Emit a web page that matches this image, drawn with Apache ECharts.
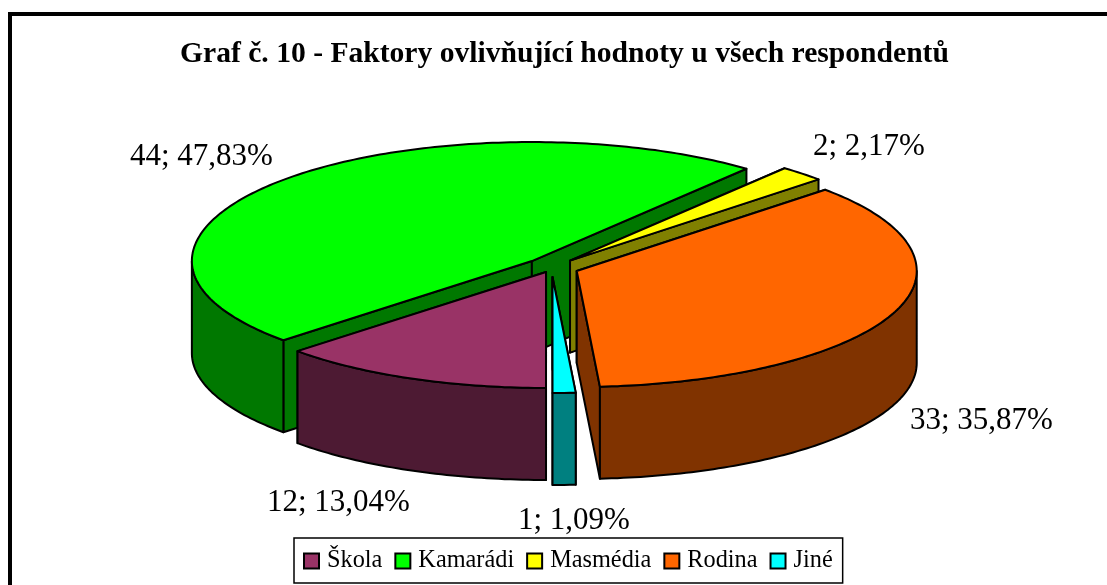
<!DOCTYPE html>
<html>
<head>
<meta charset="utf-8">
<style>html,body{margin:0;padding:0;background:#fff;overflow:hidden}#c{width:1107px;height:585px}</style>
<script src="https://cdn.jsdelivr.net/npm/echarts@6/dist/echarts.min.js"></script>
</head>
<body>
<div id="c"></div>
<script>
// Data
var categories = ['Škola', 'Kamarádi', 'Masmédia', 'Rodina', 'Jiné'];
var counts = [12, 44, 2, 33, 1];
var titleText = 'Graf č. 10 - Faktory ovlivňující hodnoty u všech respondentů';

// Style & layout
var topColors = ['#993366', '#00ff00', '#ffff00', '#ff6600', '#00ffff'];
var sideColors = ['#4d1a33', '#007800', '#808000', '#803300', '#008080'];
var explode = [14, 27, 27, 27, 27];
var labelAnchors = [[267, 518], [130, 172], [813, 162], [910, 436], [518, 536]];
var drawOrder = [5, 2, 3, 4, 6];
var pie = { cx: 551.6, cy: 267.5, a: 340, bTop: 119, bBottom: 116, depth: 92, startAngle: 180 };
var FONT = '"Liberation Serif","Times New Roman",serif';

var total = counts.reduce(function (s, v) { return s + v; }, 0);

function rad(d) { return d * Math.PI / 180; }
function ellipsePoint(ox, oy, deg) {
  var c = Math.cos(rad(deg));
  return [ox + pie.a * Math.sin(rad(deg)), oy - c * (c > 0 ? pie.bTop : pie.bBottom)];
}
function sliceAngles(index) {
  var before = 0;
  for (var i = 0; i < index; i++) before += counts[i];
  return [pie.startAngle + before / total * 360, pie.startAngle + (before + counts[index]) / total * 360];
}
function arcPoints(ox, oy, from, to) {
  var pts = [], n = Math.max(2, Math.ceil(Math.abs(to - from)));
  for (var i = 0; i <= n; i++) pts.push(ellipsePoint(ox, oy, from + (to - from) * i / n));
  return pts;
}
function drop(p) { return [p[0], p[1] + pie.depth]; }

function renderSlice(index) {
  return function (params, api) {
    var value = api.value(0);
    var ang = sliceAngles(index), s = ang[0], e = ang[1], mid = (s + e) / 2;
    var k = pie.bTop / pie.a;
    var ox = pie.cx + explode[index] * Math.sin(rad(mid));
    var oy = pie.cy - explode[index] * k * Math.cos(rad(mid));
    var apex = [ox, oy];
    var line = { stroke: '#000', lineWidth: 2, lineJoin: 'round' };
    var sideStyle = Object.assign({ fill: sideColors[index] }, line);
    var topStyle = Object.assign({ fill: topColors[index] }, line);
    var children = [];
    // cut walls
    [s, e].forEach(function (deg) {
      var p = ellipsePoint(ox, oy, deg);
      children.push({ type: 'polygon', shape: { points: [apex, p, drop(p), drop(apex)] }, style: sideStyle });
    });
    // outer wall: only the front half of the rim is seen
    var segs = [[s, e], [s + 360, e + 360], [s - 360, e - 360]];
    segs.forEach(function (r) {
      var from = Math.max(r[0], 90), to = Math.min(r[1], 270);
      if (to > from) {
        var rim = arcPoints(ox, oy, from, to);
        children.push({ type: 'polygon', shape: { points: rim.concat(rim.slice().reverse().map(drop)) }, style: sideStyle });
      }
    });
    // top face
    children.push({ type: 'polygon', shape: { points: [apex].concat(arcPoints(ox, oy, s, e)) }, style: topStyle });
    // label
    children.push({
      type: 'text',
      style: {
        text: value + '; ' + (value / total * 100).toFixed(2).replace('.', ',') + '%',
        x: labelAnchors[index][0], y: labelAnchors[index][1],
        fill: '#000', font: '31px ' + FONT, align: 'left', verticalAlign: 'bottom'
      }
    });
    return { type: 'group', children: children };
  };
}

var chart = echarts.init(document.getElementById('c'), null, { renderer: 'canvas' });
chart.setOption({
  animation: false,
  backgroundColor: '#fff',
  title: {
    text: titleText, left: 175, top: 34,
    textStyle: { fontFamily: FONT, fontWeight: 'bold', fontSize: 29.6, color: '#000' }
  },
  legend: {
    data: categories, left: 294, top: 538, orient: 'horizontal',
    padding: [11, 10, 10, 9], itemGap: 12, itemWidth: 15, itemHeight: 15,
    borderColor: '#000', borderWidth: 1.5, backgroundColor: '#fff',
    icon: 'rect', selectedMode: false,
    textStyle: { fontFamily: FONT, fontSize: 24.3, color: '#000', padding: [0, 0, 0, 3] },
    itemStyle: { borderColor: '#000', borderWidth: 2 }
  },
  graphic: [{
    type: 'rect', z: -1, silent: true,
    shape: { x: 10, y: 14, width: 1300, height: 640 },
    style: { fill: '#fff', stroke: '#000', lineWidth: 4 }
  }],
  series: categories.map(function (name, i) {
    return {
      type: 'custom', name: name, coordinateSystem: 'none', z: drawOrder[i], silent: true,
      itemStyle: { color: topColors[i], borderColor: '#000', borderWidth: 2 },
      renderItem: renderSlice(i),
      data: [[counts[i]]]
    };
  })
});
</script>
</body>
</html>
